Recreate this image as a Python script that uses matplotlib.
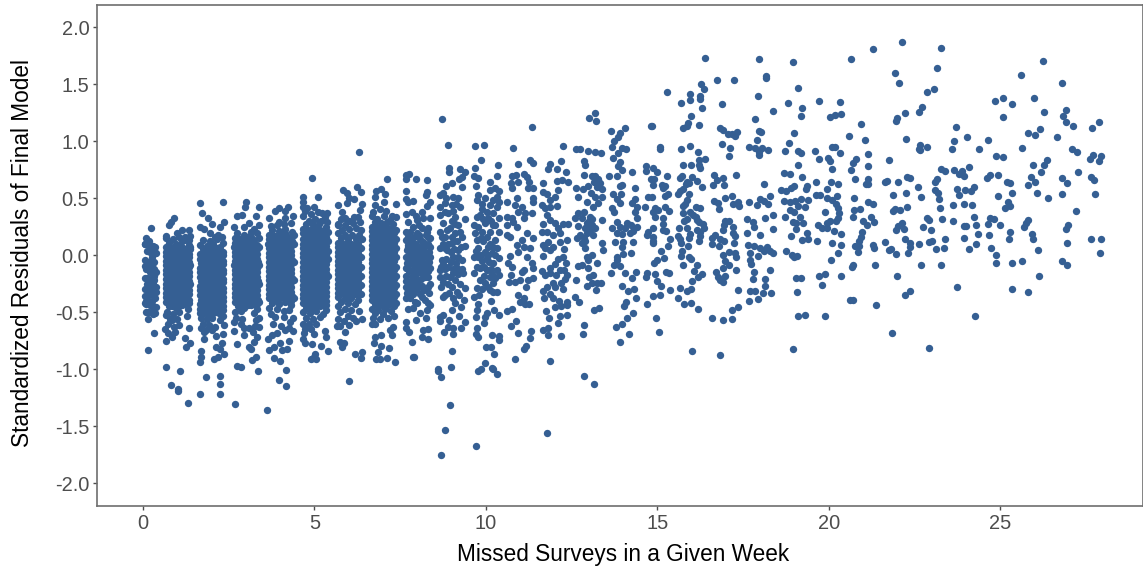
import matplotlib
matplotlib.use("Agg")
import matplotlib.pyplot as plt

plt.rcParams['font.family'] = ['Liberation Sans', 'DejaVu Sans']

x_ticks = [0, 5, 10, 15, 20, 25]
y_ticks = [-2.0, -1.5, -1.0, -0.5, 0.0, 0.5, 1.0, 1.5, 2.0]
x_title = "Missed Surveys in a Given Week"
y_title = "Standardized Residuals of Final Model"

# residuals: (missed surveys with jitter, residual)
week_0 = [(.22,.24),(.09,.146),(.07,.096),(.36,.073),(.12,.038),(.26,-.015),(.36,.015),(.21,-.059),(.07,-.097),(.12,-.088),(.38,-.146),(.26,-.088),(.12,-.205),(.33,-.219),(.17,-.278),(.26,-.307),(.38,-.322),(.36,-.38),(.12,-.366),(.07,-.424),(.21,-.439),(.38,-.453),(.14,-.497),(.36,-.512),(.15,-.561),(.31,-.681),(.15,-.83),(.08,-.43),(.1,-.12),(.3,-.25),(.2,-.15),(.07,-.3),(.38,.02),(.28,.08),(.17,.12),(.1,-.4),(.25,-.4),(.08,-.5),(.3,-.45),(.07,.1),(.07,-.04),(.31,-.06),(.07,-.2),(.24,-.21),(.37,-.28),(.19,.03),(.07,-.36),(.29,-.52),
(.29,.03),(.22,-.12),(.33,-.12),(.16,-.06),(.13,-.25),(.28,-.35),(.17,-.33),(.22,-.5),(.33,-.18),(.19,.08)]
week_1 = [(.68,-.983),(1.08,-1.02),(.82,-1.143),(1.02,-1.17),(1.01,-1.19),(1.31,-1.30),(.91,.322),(.82,.292),(.77,.263),(1.0,.19),(1.14,.219),(1.33,.219),(.68,.167),(1.37,.167),(1.23,.155),(1.38,.055),(1.33,.131),(1.28,-.532),(.68,-.526),(.65,-.652),(1.33,-.643),(1.23,-.731),(1.37,-.769),(1.25,-.804),(.68,-.752),(.85,-.716),(.94,-.673),(1.04,-.614),(.85,-.57),
(.68,.15),(.87,.14),(1.06,.16),(1.24,.13),(.76,.11),(.95,.1),(1.15,.12),(1.33,.09),(.67,.07),(.86,.06),(1.05,.08),(1.24,.05),(1.37,.07),(.77,.03),(.96,.02),(1.14,.04),(1.33,.01),(.68,-.01),(.87,-.02),(1.05,0.0),(1.25,-.03),(.76,-.05),(.95,-.06),(1.15,-.04),(1.34,-.06),(.66,-.09),(.86,-.1),(1.06,-.08),(1.24,-.11),(1.37,-.09),(.77,-.13),(.96,-.14),(1.14,-.12),(1.33,-.15),(.68,-.17),(.87,-.18),(1.05,-.16),(1.25,-.19),(.76,-.21),(.95,-.22),(1.15,-.2),(1.34,-.23),(.67,-.25),(.86,-.26),(1.06,-.24),(1.24,-.27),(1.37,-.25),(.77,-.29),(.96,-.3),(1.14,-.28),(1.33,-.31),(.68,-.33),(.87,-.34),(1.05,-.32),(1.25,-.35),(.76,-.37),(.95,-.38),(1.15,-.36),(1.34,-.39),(.67,-.41),(.86,-.42),(1.06,-.4),(1.24,-.43),(.77,-.45),(.96,-.46),(1.14,-.44),(1.3,-.47),(.7,-.5),(.88,-.52),(1.06,-.5),(.78,-.56),(1.0,-.56),(.72,-.6),(.9,-.63),(.73,-.68),
(.76,.07),(.95,.07),(1.15,.07),(.67,.03),(.86,.03),(1.05,.03),(1.24,.02),(.76,-.01),(.95,-.01),(1.15,-.01),(1.33,-.02),(.67,-.05),(.86,-.05),(1.05,-.05),(1.24,-.06),(.76,-.09),(.95,-.09),(1.15,-.08),(1.33,-.1),(.67,-.13),(.86,-.13),(1.05,-.13),(1.24,-.14),(.76,-.17),(.95,-.17),(1.15,-.16),(1.33,-.18),(.67,-.21),(.86,-.21),(1.05,-.21),(1.24,-.22),(.76,-.25),(.95,-.25),(1.15,-.24),(1.33,-.26),(.67,-.29),(.86,-.29),(1.05,-.29),(1.24,-.3),(.76,-.33),(.95,-.33),(1.15,-.32),(1.33,-.34),(.67,-.37),(.86,-.37),(1.05,-.37),(1.24,-.38),(.76,-.41),(.95,-.41),(1.15,-.4),(1.33,-.42),(.86,-.45),(1.05,-.45)]
week_2 = [(1.66,.453),(2.33,.462),(1.71,.365),(1.9,.322),(2.01,.272),(1.77,.228),(1.66,.243),(2.35,.292),(2.25,.248),(2.11,.161),(1.79,-.734),(2.14,-.708),(2.33,-.693),(2.3,-.775),(2.14,-.804),(2.35,-.868),(2.24,-.819),(1.69,-.842),(1.69,-.892),(1.67,-.939),(2.06,-.907),(2.18,-.892),(1.85,-1.07),(2.26,-1.056),(2.25,-1.132),(2.25,-1.216),(1.65,-1.222),(2.35,-.614),(1.77,-.673),
(1.96,.19),(2.2,.18),(2.3,.16),(1.76,.13),(1.95,.12),(2.15,.14),(2.34,.11),(1.67,.09),(1.86,.08),(2.05,.1),(2.24,.07),(1.76,.05),(1.95,.04),(2.15,.06),(2.34,.03),(1.66,.01),(1.86,0.0),(2.06,.02),(2.24,-.01),(1.77,-.03),(1.96,-.04),(2.14,-.02),(2.33,-.05),(1.68,-.07),(1.87,-.08),(2.05,-.06),(2.25,-.09),(1.76,-.11),(1.95,-.12),(2.15,-.1),(2.34,-.13),(1.67,-.15),(1.86,-.16),(2.06,-.14),(2.24,-.17),(1.77,-.19),(1.96,-.2),(2.14,-.18),(2.33,-.21),(1.68,-.23),(1.87,-.24),(2.05,-.22),(2.25,-.25),(1.76,-.27),(1.95,-.28),(2.15,-.26),(2.34,-.29),(1.67,-.31),(1.86,-.32),(2.06,-.3),(2.24,-.33),(1.77,-.35),(1.96,-.36),(2.14,-.34),(2.33,-.37),(1.68,-.39),(1.87,-.4),(2.05,-.38),(2.25,-.41),(1.76,-.43),(1.95,-.44),(2.15,-.42),(2.34,-.45),(1.67,-.47),(1.86,-.48),(2.06,-.46),(2.24,-.49),(1.77,-.51),(1.96,-.52),(2.14,-.5),(2.33,-.53),(1.68,-.55),(1.87,-.56),(2.02,-.55),(2.25,-.57),(1.76,-.6),(1.93,-.61),(2.1,-.63),(1.68,-.64),(1.85,-.66),(2.02,-.66),
(1.86,.05),(2.05,.05),(2.24,.03),(1.76,.01),(1.95,.01),(2.15,.01),(2.33,0.0),(1.67,-.03),(1.86,-.03),(2.05,-.03),(2.24,-.04),(1.76,-.07),(1.95,-.07),(2.15,-.06),(2.34,-.08),(1.67,-.11),(1.86,-.11),(2.05,-.11),(2.24,-.12),(1.76,-.15),(1.95,-.15),(2.15,-.14),(2.34,-.16),(1.67,-.19),(1.86,-.19),(2.05,-.19),(2.24,-.2),(1.76,-.23),(1.95,-.23),(2.15,-.22),(2.34,-.24),(1.67,-.27),(1.86,-.27),(2.05,-.27),(2.24,-.28),(1.76,-.31),(1.95,-.31),(2.15,-.3),(2.34,-.32),(1.67,-.35),(1.86,-.35),(2.05,-.35),(2.24,-.36),(1.76,-.39),(1.95,-.39),(2.15,-.38),(2.34,-.4),(1.67,-.43),(1.86,-.43),(2.05,-.43),(2.24,-.44),(1.76,-.47),(1.95,-.47),(2.15,-.46),(2.34,-.48),(1.67,-.51),(1.86,-.51),(2.05,-.51),(2.24,-.52)]
week_3 = [(3.0,.465),(2.98,.418),(3.37,.424),(2.74,.345),(2.88,.351),(3.3,.345),(3.08,.284),(3.37,.263),(2.66,.243),(2.94,.243),(3.23,.231),(2.65,-.664),(2.74,-.781),(2.94,-.702),(3.33,-.716),(3.23,-.76),(3.08,-.81),(3.15,-.827),(3.3,-.895),(3.19,-.921),(2.74,-.974),(2.87,-.985),(3.35,-1.012),(2.69,-1.304),
(2.75,.19),(2.95,.18),(3.14,.2),(3.32,.19),(2.67,.15),(2.86,.14),(3.05,.16),(3.24,.13),(3.37,.15),(2.76,.11),(2.95,.1),(3.15,.12),(3.33,.09),(2.66,.07),(2.86,.06),(3.06,.08),(3.24,.05),(3.37,.07),(2.77,.03),(2.96,.02),(3.14,.04),(3.33,.01),(2.68,-.01),(2.87,-.02),(3.05,0.0),(3.25,-.03),(2.76,-.05),(2.95,-.06),(3.15,-.04),(3.34,-.06),(2.66,-.09),(2.86,-.1),(3.06,-.08),(3.24,-.11),(3.37,-.09),(2.77,-.13),(2.96,-.14),(3.14,-.12),(3.33,-.15),(2.68,-.17),(2.87,-.18),(3.05,-.16),(3.25,-.19),(2.76,-.21),(2.95,-.22),(3.15,-.2),(3.34,-.23),(2.67,-.25),(2.86,-.26),(3.06,-.24),(3.24,-.27),(3.37,-.25),(2.77,-.29),(2.96,-.3),(3.14,-.28),(3.33,-.31),(2.68,-.33),(2.87,-.34),(3.05,-.32),(3.25,-.35),(2.76,-.37),(2.95,-.38),(3.15,-.36),(3.34,-.39),(2.67,-.41),(2.86,-.42),(3.06,-.4),(3.24,-.43),(3.37,-.41),(2.77,-.45),(2.96,-.46),(3.14,-.44),(3.33,-.47),(2.68,-.5),(2.87,-.49),(3.25,-.51),(2.72,-.55),(2.9,-.56),(3.3,-.57),(3.37,-.55),(2.66,-.59),(2.85,-.6),(3.27,-.62),(3.37,-.63),(3.1,-.64),(3.2,-.67),(2.95,-.64),
(2.76,.15),(2.95,.14),(3.15,.16),(2.67,.11),(2.86,.1),(3.05,.12),(3.24,.09),(2.76,.07),(2.95,.06),(3.15,.08),(3.33,.05),(2.67,.03),(2.86,.02),(3.05,.04),(3.24,.01),(2.76,-.01),(2.95,-.02),(3.15,0.0),(3.33,-.03),(2.67,-.05),(2.86,-.06),(3.05,-.04),(3.24,-.07),(2.76,-.09),(2.95,-.1),(3.15,-.08),(3.33,-.11),(2.67,-.13),(2.86,-.14),(3.05,-.12),(3.24,-.15),(2.76,-.17),(2.95,-.18),(3.15,-.16),(3.33,-.19),(2.67,-.21),(2.86,-.22),(3.05,-.2),(3.24,-.23),(2.76,-.25),(2.95,-.26),(3.15,-.24),(3.33,-.27),(2.67,-.29),(2.86,-.3),(3.05,-.28),(3.24,-.31),(2.76,-.33),(2.95,-.34),(3.15,-.32),(3.33,-.35),(2.67,-.37),(2.86,-.38),(3.05,-.36),(3.24,-.39),(2.76,-.41),(2.95,-.42),(3.15,-.4),(3.33,-.43),(2.86,-.46),(3.05,-.44)]
week_4 = [(3.67,.327),(3.86,.383),(3.98,.409),(4.22,.421),(4.13,.383),(4.38,.345),(3.96,.292),(3.73,.254),(4.15,.322),(3.66,-.74),(4.25,-.751),(3.76,-.702),(4.38,-.664),(3.67,-.833),(3.81,-.804),(4.01,-.775),(4.2,-.825),(4.05,-.833),(3.83,-.898),(3.99,-.927),(4.16,-1.006),(3.96,-1.096),(4.18,-1.146),(3.62,-1.36),(4.25,-.643),
(3.9,.26),(4.12,.27),(4.33,.28),(3.76,.22),(3.96,.21),(4.15,.23),(4.34,.2),(3.67,.18),(3.86,.17),(4.05,.19),(4.24,.16),(4.39,.18),(3.76,.14),(3.95,.13),(4.15,.15),(4.34,.12),(3.66,.1),(3.86,.09),(4.06,.11),(4.24,.08),(4.39,.1),(3.77,.06),(3.96,.05),(4.14,.07),(4.33,.04),(3.68,.02),(3.87,.01),(4.05,.03),(4.25,0.0),(3.76,-.02),(3.95,-.03),(4.15,-.01),(4.34,-.04),(3.67,-.06),(3.86,-.07),(4.06,-.05),(4.24,-.08),(4.39,-.06),(3.77,-.1),(3.96,-.11),(4.14,-.09),(4.33,-.12),(3.68,-.14),(3.87,-.15),(4.05,-.13),(4.25,-.16),(3.76,-.18),(3.95,-.19),(4.15,-.17),(4.34,-.2),(3.67,-.22),(3.86,-.23),(4.06,-.21),(4.24,-.24),(4.39,-.22),(3.77,-.26),(3.96,-.27),(4.14,-.25),(4.33,-.28),(3.68,-.3),(3.87,-.31),(4.05,-.29),(4.25,-.32),(3.76,-.34),(3.95,-.35),(4.15,-.33),(4.34,-.36),(3.67,-.38),(3.86,-.39),(4.06,-.37),(4.24,-.4),(4.39,-.38),(3.77,-.42),(3.96,-.43),(4.14,-.41),(4.33,-.44),(3.68,-.46),(3.9,-.47),(4.12,-.49),(4.27,-.48),(3.72,-.52),(3.86,-.54),(4.1,-.54),(4.38,-.55),(3.8,-.6),(4.02,-.62),(4.14,-.66),(3.9,-.68),(4.3,-.59),
(3.76,.18),(3.95,.17),(4.15,.19),(3.67,.14),(3.86,.13),(4.05,.15),(4.24,.12),(3.76,.1),(3.95,.09),(4.15,.11),(4.33,.08),(3.67,.06),(3.86,.05),(4.05,.07),(4.24,.04),(3.76,.02),(3.95,.01),(4.15,.03),(4.33,0.0),(3.67,-.02),(3.86,-.03),(4.05,-.01),(4.24,-.04),(3.76,-.06),(3.95,-.07),(4.15,-.05),(4.33,-.08),(3.67,-.1),(3.86,-.11),(4.05,-.09),(4.24,-.12),(3.76,-.14),(3.95,-.15),(4.15,-.13),(4.33,-.16),(3.67,-.18),(3.86,-.19),(4.05,-.17),(4.24,-.2),(3.76,-.22),(3.95,-.23),(4.15,-.21),(4.33,-.24),(3.67,-.26),(3.86,-.27),(4.05,-.25),(4.24,-.28),(3.76,-.3),(3.95,-.31),(4.15,-.29),(4.33,-.32),(3.67,-.34),(3.86,-.35),(4.05,-.33),(4.24,-.36),(3.76,-.38),(3.95,-.39),(4.15,-.37),(4.33,-.4)]
week_5 = [(4.92,.678),(4.66,.509),(5.11,.506),(4.66,.468),(4.66,.424),(4.98,.424),(4.78,.409),(5.37,.365),(5.22,.365),(4.67,-.737),(4.73,-.775),(4.71,-.681),(4.98,-.693),(5.3,-.664),(5.35,-.716),(4.93,-.781),(5.19,-.795),(5.39,-.845),(5.03,-.868),(4.98,-.892),(4.9,-.912),(5.06,-.909),
(4.72,.39),(4.9,.36),(5.1,.38),(5.3,.33),(4.67,.34),(4.84,.3),(5.03,.32),(5.2,.3),(5.38,.29),(4.76,.27),(4.95,.26),(5.14,.27),(5.33,.25),(4.67,.23),(4.86,.22),(5.05,.23),(5.24,.21),(5.39,.2),(4.76,.19),(4.95,.18),(5.15,.17),(5.33,.16),(4.67,.14),(4.86,.13),(5.06,.15),(5.24,.12),(5.39,.12),(4.77,.1),(4.96,.09),(5.14,.11),(5.33,.08),(4.68,.06),(4.87,.05),(5.05,.07),(5.25,.04),(5.39,.04),(4.76,.02),(4.95,.01),(5.15,.03),(5.34,0.0),(4.67,-.02),(4.86,-.03),(5.06,-.01),(5.24,-.04),(5.39,-.03),(4.77,-.06),(4.96,-.07),(5.14,-.05),(5.33,-.08),(4.68,-.1),(4.87,-.11),(5.05,-.09),(5.25,-.12),(4.76,-.14),(4.95,-.15),(5.15,-.13),(5.34,-.16),(4.67,-.18),(4.86,-.19),(5.06,-.17),(5.24,-.2),(5.39,-.18),(4.77,-.22),(4.96,-.23),(5.14,-.21),(5.33,-.24),(4.68,-.26),(4.87,-.27),(5.05,-.25),(5.25,-.28),(4.76,-.3),(4.95,-.31),(5.15,-.29),(5.34,-.32),(4.67,-.34),(4.86,-.35),(5.06,-.33),(5.24,-.36),(4.77,-.38),(4.96,-.39),(5.14,-.37),(5.33,-.4),(4.68,-.42),(4.87,-.43),(5.05,-.41),(5.25,-.44),(4.76,-.46),(4.95,-.47),(5.15,-.45),(5.34,-.48),(4.67,-.5),(4.86,-.51),(5.06,-.49),(5.24,-.52),(4.76,-.55),(4.95,-.56),(5.15,-.54),(4.67,-.6),(4.85,-.6),(5.06,-.6),(4.72,-.65),(4.9,-.65),
(4.76,.23),(4.95,.22),(5.15,.22),(4.67,.19),(4.86,.18),(5.05,.18),(5.24,.16),(4.76,.14),(4.95,.13),(5.15,.13),(4.67,.1),(4.86,.09),(5.05,.11),(5.24,.08),(4.76,.06),(4.95,.05),(5.15,.07),(5.33,.04),(4.67,.02),(4.86,.01),(5.05,.03),(5.24,0.0),(4.76,-.02),(4.95,-.03),(5.15,-.01),(5.33,-.04),(4.67,-.06),(4.86,-.07),(5.05,-.05),(5.24,-.08),(4.76,-.1),(4.95,-.11),(5.15,-.09),(5.33,-.12),(4.67,-.14),(4.86,-.15),(5.05,-.13),(5.24,-.16),(4.76,-.18),(4.95,-.19),(5.15,-.17),(5.33,-.2),(4.67,-.22),(4.86,-.23),(5.05,-.21),(5.24,-.24),(4.76,-.26),(4.95,-.27),(5.15,-.25),(5.33,-.28),(4.67,-.3),(4.86,-.31),(5.05,-.29),(5.24,-.32),(4.76,-.34),(4.95,-.35),(5.15,-.33),(5.33,-.36),(4.67,-.38),(4.86,-.39),(5.05,-.37),(5.24,-.4),(4.76,-.42),(4.95,-.43),(5.15,-.41),(5.33,-.44),(4.86,-.47),(5.05,-.45)]
week_6 = [(6.0,-1.102),(6.30,.9),(6.24,.596),(5.83,.573),(6.37,.55),(5.95,.541),(6.0,.497),(6.15,.488),(5.69,.439),(6.39,.444),(5.95,.453),(5.81,.38),(6.34,.395),(5.9,.322),(5.68,.263),(6.15,.336),(5.66,-.62),(5.74,-.62),(5.9,-.673),(6.0,-.614),(6.38,-.556),(6.22,-.576),(5.76,-.76),(5.87,-.769),(5.81,-.81),(6.17,-.868),(6.38,-.851),(6.36,-.904),(6.29,-.488),
(5.78,.32),(6.0,.3),(6.28,.33),(5.7,.27),(5.9,.26),(6.12,.28),(6.33,.29),(5.8,.22),(6.0,.23),(6.2,.24),(6.37,.22),(5.68,.19),(5.9,.18),(6.1,.18),(6.3,.18),(5.78,.15),(5.99,.14),(6.2,.14),(6.38,.14),(5.68,.11),(5.88,.1),(6.08,.1),(6.28,.1),(5.78,.07),(5.98,.06),(6.18,.06),(6.37,.06),(5.68,.03),(5.88,.02),(6.08,.02),(6.28,.02),(5.78,-.01),(5.98,-.02),(6.18,-.02),(6.37,-.02),(5.68,-.05),(5.88,-.06),(6.08,-.06),(6.28,-.06),(5.78,-.09),(5.98,-.1),(6.18,-.1),(6.37,-.1),(5.68,-.13),(5.88,-.14),(6.08,-.14),(6.28,-.14),(5.78,-.17),(5.98,-.18),(6.18,-.18),(6.37,-.18),(5.68,-.21),(5.88,-.22),(6.08,-.22),(6.28,-.22),(5.78,-.25),(5.98,-.26),(6.18,-.26),(6.37,-.26),(5.68,-.29),(5.88,-.3),(6.08,-.3),(6.28,-.3),(5.78,-.33),(5.98,-.34),(6.18,-.34),(6.37,-.34),(5.68,-.37),(5.88,-.38),(6.08,-.38),(6.27,-.39),(5.78,-.41),(5.98,-.42),(6.18,-.43),(5.68,-.45),(5.88,-.47),(6.08,-.48),(5.75,-.5),(5.97,-.53),(6.13,-.55),(5.7,-.56),(5.85,-.58),
(5.78,.11),(5.98,.1),(6.18,.1),(5.68,.07),(5.88,.06),(6.08,.06),(6.28,.06),(5.78,.03),(5.98,.02),(6.18,.02),(5.68,-.01),(5.88,-.02),(6.08,-.02),(6.28,-.02),(5.78,-.05),(5.98,-.06),(6.18,-.06),(5.68,-.09),(5.88,-.1),(6.08,-.1),(6.28,-.1),(5.78,-.13),(5.98,-.14),(6.18,-.14),(5.68,-.17),(5.88,-.18),(6.08,-.18),(6.28,-.18),(5.78,-.21),(5.98,-.22),(6.18,-.22),(5.68,-.25),(5.88,-.26),(6.08,-.26),(6.28,-.26),(5.78,-.29),(5.98,-.3),(6.18,-.3),(5.68,-.33),(5.88,-.34),(6.08,-.34),(6.28,-.34)]
week_7 = [(7.13,.67),(6.93,.579),(6.81,.558),(7.06,.535),(6.78,.506),(7.02,.465),(6.78,.439),(7.38,.447),(7.26,.342),(6.67,-.6),(6.78,-.602),(6.92,-.556),(7.29,-.629),(7.21,-.658),(7.25,-.699),(6.77,-.716),(6.95,-.702),(6.74,-.769),(6.93,-.795),(7.19,-.816),(6.86,-.851),(6.81,-.909),(6.92,-.912),(7.12,-.904),(7.34,-.936),(7.88,-.89),
(6.72,.38),(6.92,.4),(7.1,.39),(6.67,.34),(6.82,.32),(7.02,.34),(7.2,.31),(7.38,.33),(6.76,.29),(6.95,.28),(7.12,.29),(7.3,.27),(6.67,.25),(6.86,.24),(7.05,.25),(7.24,.23),(7.38,.22),(6.76,.21),(6.96,.2),(7.14,.2),(7.33,.19),(6.67,.17),(6.86,.16),(7.06,.17),(7.24,.15),(7.38,.14),(6.76,.13),(6.96,.12),(7.14,.12),(7.33,.11),(6.67,.09),(6.86,.08),(7.06,.09),(7.24,.07),(7.38,.06),(6.76,.05),(6.96,.04),(7.14,.04),(7.33,.03),(6.67,.01),(6.86,0.0),(7.06,.01),(7.24,-.01),(7.38,-.02),(6.76,-.03),(6.96,-.04),(7.14,-.04),(7.33,-.05),(6.67,-.07),(6.86,-.08),(7.06,-.07),(7.24,-.09),(7.38,-.1),(6.76,-.11),(6.96,-.12),(7.14,-.12),(7.33,-.13),(6.67,-.15),(6.86,-.16),(7.06,-.15),(7.24,-.17),(7.38,-.18),(6.76,-.19),(6.96,-.2),(7.14,-.2),(7.33,-.21),(6.67,-.23),(6.86,-.24),(7.06,-.23),(7.24,-.25),(7.38,-.26),(6.76,-.27),(6.96,-.28),(7.14,-.28),(7.33,-.29),(6.67,-.31),(6.86,-.32),(7.06,-.31),(7.24,-.33),(7.38,-.34),(6.76,-.35),(6.96,-.36),(7.14,-.36),(7.33,-.37),(6.67,-.39),(6.86,-.4),(7.06,-.39),(7.24,-.41),(7.38,-.42),(6.76,-.43),(6.96,-.44),(7.14,-.44),(7.33,-.45),(6.67,-.47),(6.86,-.48),(7.06,-.47),(7.24,-.49),(6.76,-.51),(7.0,-.52),(7.33,-.53),(6.7,-.55),(7.15,-.55),
(6.76,.25),(6.96,.24),(7.14,.24),(6.67,.21),(6.86,.2),(7.06,.21),(7.24,.19),(6.76,.17),(6.96,.16),(7.14,.16),(6.67,.13),(6.86,.12),(7.06,.13),(7.24,.11),(6.76,.09),(6.96,.08),(7.14,.08),(6.67,.05),(6.86,.04),(7.06,.05),(7.24,.03),(6.76,.01),(6.96,0.0),(7.14,0.0),(6.67,-.03),(6.86,-.04),(7.06,-.03),(7.24,-.05),(6.76,-.07),(6.96,-.08),(7.14,-.08),(6.67,-.11),(6.86,-.12),(7.06,-.11),(7.24,-.13),(6.76,-.15),(6.96,-.16),(7.14,-.16),(6.67,-.19),(6.86,-.2),(7.06,-.19),(7.24,-.21),(6.76,-.23),(6.96,-.24),(7.14,-.24),(6.67,-.27),(6.86,-.28),(7.06,-.27),(7.24,-.29),(6.76,-.31),(6.96,-.32),(7.14,-.32),(6.67,-.35),(6.86,-.36),(7.06,-.35),(7.24,-.37),(6.76,-.39),(6.96,-.4),(7.14,-.4),(6.86,-.44),(7.06,-.43)]
week_8 = [(7.67,.699),(7.76,.711),(7.67,.664),(7.95,.667),(8.28,.658),(7.67,.562),(8.27,.556),(8.25,.526),(7.67,.492),(7.74,.468),(7.89,.474),(8.37,.468),(8.27,.433),(7.67,.357),(7.84,.38),(8.13,.38),(8.37,.322),(7.74,.293),(7.98,.307),(8.18,.322),(7.89,.249),(7.67,.205),(8.13,.234),(8.32,.234),(7.74,.161),(7.98,.19),(8.37,.146),(7.67,.132),(7.84,.117),(8.18,.117),(8.03,.073),(8.38,.073),(7.69,.044),(7.89,.03),(8.23,.03),(7.67,-.014),(8.38,-.014),(8.03,-.029),(7.79,-.058),(8.27,-.073),(7.67,-.117),(7.93,-.117),(8.38,-.117),(8.13,-.16),(7.79,-.234),(8.03,-.219),(8.32,-.19),(7.93,-.307),(7.74,-.307),(8.35,-.336),(7.67,-.38),(8.13,-.365),(7.93,-.409),(8.38,-.438),(7.74,-.476),(7.87,-.468),(8.08,-.511),(8.27,-.482),(7.66,-.584),(7.96,-.57),(8.25,-.555),(7.67,-.643),(7.77,-.672),(8.18,-.655),(8.32,-.652),(8.14,-.722),(8.3,-.734),(7.86,-.76),(7.91,-.894),
(7.95,.34),(8.05,.26),(7.8,.2),(8.25,.18),(7.95,.1),(8.1,.06),(8.32,.1),(7.75,-.03),(8.15,-.05),(7.85,-.14),(8.2,-.12),(8.05,-.15),(7.68,-.18),(7.9,-.22),(8.15,-.27),(8.3,-.28),(8.0,-.3),(7.67,-.28),(8.22,-.39),(7.8,-.38),(8.0,-.42),(8.32,-.42),(8.37,-.25),(7.72,.09),
(7.8,.11),(7.9,.16),(8.08,.14),(8.3,.16),(7.73,.07),(7.98,.03),(8.15,.01),(8.33,.03),(7.82,-.01),(7.95,-.05),(8.1,-.02),(8.28,-.02),(7.7,-.07),(7.85,-.08),(8.03,-.09),(8.21,-.09),(8.35,-.06),(7.75,-.14),(7.95,-.17),(8.12,-.11),(8.3,-.14),(7.68,-.23),(7.85,-.19),(8.1,-.21),(8.24,-.19),(7.8,-.29),(7.98,-.25),(8.2,-.31),(7.7,-.33),(7.87,-.34),(8.07,-.34),
(7.88,.07),(8.2,.07),(8.05,.18),(7.8,.03),(7.95,-.1),(8.1,-.1),(8.28,-.1),(7.85,-.25),(7.72,-.12),(8.05,-.04),(8.0,.02),(7.9,-.02),(8.17,.11),(7.72,.13),(8.18,-.16),(8.28,.2)]
week_9 = [(8.71,1.196),(8.89,.968),(8.94,.761),(8.94,.726),(9.25,.755),(9.39,.726),(9.3,.687),(9.23,.667),(9.0,.635),(8.84,.603),(9.3,.6),(8.66,.527),(8.76,.541),(9.05,.512),(9.2,.497),(8.66,.424),(8.81,.454),(9.0,.439),(9.25,.424),(8.66,.351),(8.91,.366),(9.39,.313),(9.1,.337),(8.76,.278),(9.2,.263),(8.96,.234),(8.66,.205),(8.81,.161),(9.1,.19),(9.3,.161),(8.66,.059),(9.0,.103),(9.39,.079),(9.2,.044),(8.86,.044),(8.71,-.044),(9.05,-.014),(9.3,-.044),(8.66,-.131),(8.91,-.102),(9.15,-.117),(9.34,-.16),(8.66,-.19),(8.96,-.19),(8.76,-.234),(9.1,-.219),(9.39,-.292),(8.81,-.351),(9.15,-.322),(8.76,-.365),(9.05,-.38),(9.36,-.394),(9.1,-.424),(9.0,-.482),(9.27,-.453),(8.66,-.541),(8.76,-.526),(9.23,-.535),(8.66,-.576),(9.39,-.584),(8.94,-.57),(8.91,-.628),(8.78,-.678),(9.05,-.643),(9.27,-.643),(9.03,-.696),(9.02,-.845),(8.97,-.979),(8.61,-1.003),(8.69,-1.754),(8.81,-1.535),(8.96,-1.316),(8.6,-1.02),(8.69,-1.07),
(8.85,.5),(9.12,.45),(8.8,.38),(9.05,.39),(9.0,.3),(8.88,.22),(9.1,.27),(9.25,.2),(9.0,.16),(8.75,.1),(9.15,.12),(8.9,.1),(9.08,.05),(8.85,-.03),(9.18,-.02),(8.98,-.06),(8.8,-.12),(9.05,-.12),(8.9,-.25),(9.25,-.25),(8.7,-.28),(9.0,-.28),(9.3,-.12),
(8.8,.06),(8.97,.03),(9.28,.07),(8.75,-.08),(9.13,-.07),(8.83,-.18),(9.2,-.17),(9.05,-.16),(8.93,-.33),(9.22,-.35),(8.7,-.1),(8.72,.16)]
week_10 = [(9.68,.954),(9.96,.962),(9.85,.831),(10.35,.787),(9.68,.764),(9.66,.693),(9.78,.679),(10.34,.69),(10.12,.641),(9.71,.606),(10.27,.585),(10.38,.565),(9.78,.527),(10.12,.57),(9.98,.497),(10.32,.506),(9.73,.483),(10.38,.468),(9.88,.448),(10.12,.439),(10.32,.424),(10.02,.38),(10.22,.366),(9.83,.351),(10.07,.322),(10.37,.322),(9.66,.263),(9.78,.249),(9.98,.278),(10.22,.263),(9.68,.19),(9.88,.205),(10.12,.205),(10.37,.205),(10.02,.161),(10.27,.132),(9.73,.132),(9.78,.059),(10.07,.073),(10.32,.059),(9.98,.03),(10.17,.015),(9.66,-.02),(9.78,-.014),(10.02,-.029),(10.37,-.029),(10.22,-.073),(9.66,-.16),(9.83,-.117),(10.02,-.131),(10.32,-.131),(10.12,-.19),(10.38,-.175),(9.83,-.219),(9.98,-.243),(10.22,-.248),(9.73,-.292),(10.12,-.307),(10.34,-.322),(9.81,-.351),(9.66,-.365),(10.14,-.406),(9.78,-.429),(9.73,-.482),(10.02,-.511),(10.25,-.482),(10.37,-.526),(9.7,-.541),(9.98,-.541),(9.94,-.596),(9.75,-.64),(9.71,-.696),(9.78,-.722),(10.19,-.701),(10.37,-.71),(10.38,-.745),(10.01,-.81),(10.15,-.81),(10.24,-.868),(9.97,-.944),(10.19,-.99),(9.85,-1.003),(9.71,-1.675),(9.77,-1.02),(10.2,-1.0),(10.33,-1.04),
(9.9,.4),(10.2,.48),(9.92,.32),(10.15,.3),(9.85,.15),(10.05,0.0),(9.9,-.05),(10.18,-.17),(9.95,-.18),(10.27,0.0),(10.1,-.06),(10.2,-.32),(9.9,-.3),
(9.75,.33),(10.27,.26),(9.93,.12),(10.13,.1),(9.72,.04),(9.87,.0),(10.22,.07),(9.74,-.1),(9.95,-.1),(10.14,-.12),(10.27,-.2),(10.05,-.28)]
week_11 = [(10.78,.942),(11.34,1.126),(10.94,.801),(11.29,.833),(11.37,.804),(10.75,.696),(10.88,.702),(11.1,.711),(11.19,.682),(10.73,.629),(10.95,.644),(11.26,.644),(11.24,.585),(11.37,.585),(10.75,.585),(11.37,.497),(11.39,.468),(10.9,.497),(10.63,.468),(10.85,.439),(11.05,.424),(10.95,.38),(10.61,.337),(11.14,.366),(11.34,.366),(10.75,.322),(11.1,.322),(10.61,.263),(10.9,.249),(10.8,.293),(11.19,.19),(11.39,.146),(10.61,.176),(10.71,.161),(11.05,.132),(10.9,.088),(11.29,.059),(11.1,.073),(10.71,-.005),(10.95,.03),(11.19,-.014),(10.66,-.073),(10.75,-.102),(11.34,-.073),(11.1,-.131),(11.39,-.117),(11.05,-.146),(10.73,-.175),(10.69,-.234),(10.85,-.234),(11.0,-.219),(11.24,-.219),(11.37,-.204),(11.17,-.277),(10.95,-.351),(11.12,-.38),(11.0,-.409),(11.14,-.429),(11.27,-.429),(10.63,-.491),(10.75,-.476),(10.88,-.576),(10.74,-.622),(10.94,-.681),(11.33,-.663),(11.3,-.728),(11.17,-.798),(11.1,-.821),(10.86,-.915)]
week_12 = [(12.24,.954),(11.87,.799),(12.2,.822),(11.8,.755),(12.07,.755),(12.33,.728),(11.68,.629),(12.07,.649),(12.21,.658),(12.39,.644),(11.66,.556),(11.78,.535),(12.11,.57),(12.02,.512),(11.87,.483),(11.63,.439),(11.73,.41),(11.87,.424),(12.07,.43),(11.78,.351),(11.87,.307),(11.68,.272),(12.02,.278),(12.26,.272),(12.41,.272),(12.11,.234),(11.63,.2),(11.78,.205),(11.97,.176),(12.16,.19),(12.36,.132),(11.82,.117),(11.68,.088),(11.97,.073),(12.16,.117),(11.73,.059),(11.87,.044),(12.28,.05),(11.68,-.008),(12.26,-.014),(12.11,-.038),(12.33,-.073),(12.02,-.079),(11.87,-.117),(12.16,-.131),(11.63,-.137),(11.73,-.175),(11.87,-.16),(12.28,-.131),(12.36,-.175),(12.31,-.21),(12.05,-.175),(11.95,-.248),(12.18,-.248),(11.66,-.312),(11.79,-.283),(12.02,-.277),(12.26,-.301),(11.87,-.345),(11.97,-.374),(11.7,-.377),(12.36,-.409),(12.14,-.4),(12.02,-.453),(12.18,-.447),(12.36,-.438),(11.76,-.488),(12.16,-.535),(12.38,-.526),(11.84,-.549),(12.1,-.599),(11.68,-.655),(11.82,-.64),(11.8,-.699),(12.2,-.71),(11.86,-.93),(11.79,-1.561)]
week_13 = [(12.62,.93),(12.75,.933),(12.97,.916),(13.19,.907),(13.35,.892),(13.02,1.205),(13.18,1.243),(13.2,1.173),(12.85,.825),(12.89,.79),(12.85,.699),(13.09,.693),(13.19,.693),(13.26,.664),(13.33,.635),(13.16,.644),(12.63,.591),(12.99,.606),(12.83,.576),(13.23,.594),(13.38,.576),(13.06,.547),(12.7,.506),(13.19,.506),(13.38,.512),(12.94,.468),(13.28,.454),(13.14,.424),(12.7,.366),(12.85,.38),(12.6,.322),(12.8,.322),(13.04,.331),(13.38,.307),(12.7,.255),(12.94,.278),(13.09,.263),(12.89,.234),(13.04,.22),(13.19,.234),(12.75,.176),(12.65,.146),(12.94,.19),(13.14,.176),(12.8,.103),(12.89,.059),(13.38,.103),(13.41,.044),(12.94,-.014),(13.09,0.0),(12.99,-.044),(13.23,-.073),(12.7,-.096),(12.8,-.087),(12.99,-.117),(13.02,-.19),(13.14,-.175),(12.63,-.219),(13.09,-.243),(13.23,-.243),(13.35,-.243),(12.94,-.272),(13.21,-.307),(12.61,-.371),(12.71,-.412),(13.16,-.482),(13.29,-.468),(12.85,-.614),(12.83,-.693),(12.86,-1.06),(13.16,-1.13),(13.0,.3),(13.1,.32),(12.98,.24),(12.85,.15),(12.9,.12)]
week_14 = [(13.64,1.091),(14.05,1.117),(13.91,1.068),(13.85,1.038),(13.74,1.003),(13.68,.95),(13.96,.936),(14.09,.927),(13.86,.892),(13.72,.848),(13.91,.819),(13.87,.781),(13.98,.746),(14.25,.728),(13.6,.693),(13.82,.693),(14.66,.784),(14.66,.737),(14.35,.588),(13.91,.606),(13.98,.617),(13.72,.538),(13.93,.533),(13.84,.494),(13.91,.454),(13.67,.41),(13.74,.38),(14.35,.489),(14.25,.454),(14.4,.424),(14.35,.38),(14.4,.322),(13.82,.293),(14.13,.278),(14.23,.263),(13.91,.243),(13.67,.237),(14.4,.246),(14.06,.234),(13.82,.196),(13.96,.184),(14.3,.214),(14.21,.19),(13.77,.117),(14.01,.117),(14.3,.117),(13.98,.073),(14.24,.015),(13.99,.009),(13.82,-.014),(13.84,-.044),(13.74,-.087),(13.9,-.096),(13.65,-.16),(14.06,-.16),(14.39,-.146),(14.27,-.201),(13.97,-.272),(14.15,-.318),(14.33,-.301),(14.37,-.377),(14.09,-.415),(14.04,-.447),(14.3,-.511),(14.13,-.555),(13.96,-.605),(13.8,-.631),(14.17,-.696),(13.9,-.763),(14.83,1.132),
(14.64,.424),(14.74,.512),(14.71,-.43),(14.69,.176),(14.69,-.16),(14.67,-.19),(14.74,.205)]
week_15_18 = [(16.39,1.725),(17.96,1.717),(16.74,1.538),(17.25,1.535),(18.17,1.573),(18.17,1.553),(16.27,1.503),(16.37,1.459),(15.29,1.433),(15.97,1.41),(16.25,1.392),(16.26,1.372),(15.97,1.357),(15.68,1.334),(16.9,1.325),(17.93,1.395),(16.31,1.29),(18.39,1.263),(15.98,1.222),(17.86,1.19),(15.91,1.161),(15.88,1.135),(16.21,1.144),(15.74,1.114),(14.84,1.129),(16.83,1.114),(16.93,1.097),(17.05,1.065),(17.17,1.059),(17.27,1.044),(17.33,1.082),(17.97,1.091),(18.03,1.076),(17.91,1.006),(16.88,.971),(15.96,.956),(15.08,.951),(15.08,.927),(15.68,.927),(17.13,.936),(17.69,.945),(17.86,.939),(18.05,.939),(18.22,.918),(17.96,.907),(17.98,.877),(16.19,.907),(17.1,.866),(16.39,.845),(16.22,.831),(15.76,.787),(15.99,.793),(16.23,.79),(16.25,.761),(14.89,.763),(15.0,.728),(15.29,.69),(16.66,.702),(17.29,.699),(16.02,.687),(15.73,.69),(15.67,.673),(16.91,.673),(14.81,.664),(14.91,.664),(15.86,.644),(16.15,.652),(16.74,.655),(14.89,.614),(16.64,.617),(16.95,.614),(18.12,.626),(15.93,.629),(15.84,.62),(16.3,.6),(15.13,.614),(15.23,.605),(15.18,.585),(15.74,.579),(15.65,.559),(15.94,.538),(15.62,.535),(15.32,.538),(15.23,.521),(18.28,.518),(17.17,.515),(16.98,.503),(14.84,.512),(15.86,.483),(16.67,.474),(16.77,.456),(17.68,.465),(18.01,.494),(18.11,.477),(18.24,.448),(17.9,.439),(17.2,.448),(17.35,.465),(17.39,.433),(15.81,.448),(15.76,.433),(16.12,.421),(16.25,.415),(16.79,.407),(14.94,.41),(15.23,.424),(15.03,.395),(15.33,.383),(14.87,.38),(15.76,.369),(15.96,.375),(16.05,.348),(16.14,.336),(18.39,.354),(14.94,.336),(17.63,.319),(18.15,.325),(15.16,.328),(15.86,.313),(15.79,.301),(16.15,.307),(16.98,.298),(17.09,.296),(17.79,.29),(15.16,.275),(16.33,.269),(16.23,.293),(16.95,.263),(17.2,.243),(17.82,.246),(15.63,.234),(15.86,.234),(16.15,.22),(16.35,.234),(16.25,.205),(16.91,.22),(18.37,.231),(14.89,.234),(15.16,.22),(15.26,.214),(17.61,.19),(17.2,.19),(17.28,.17),(18.01,.173),(15.62,.167),(15.96,.185),(16.25,.167),(16.69,.176),(14.89,.161),(15.37,.143),(15.67,.138),(15.94,.147),(16.23,.126),(16.6,.147),(16.83,.138),(16.94,.126),(17.24,.108),(14.87,.126),(15.32,.082),(15.69,.103),(15.91,.079),(16.6,.1),(16.8,.079),(17.64,.085),(17.81,.079),(18.0,.059),(18.19,.073),(14.87,.103),(15.1,.035),(15.71,.035),(17.08,.029),(17.27,.021),(17.7,.018),(18.12,.033),(18.29,.038),(18.38,.015),(16.91,-.003),(15.68,-.011),(15.94,-.02),(15.99,-.038),(17.29,-.014),(17.93,-.011),(15.21,-.029),(16.98,-.052),(17.71,-.044),(14.98,-.044),(14.91,-.073),(17.08,-.084),(17.74,-.08),(15.74,-.087),(16.15,-.087),(16.91,-.111),(17.3,-.134),(18.3,-.131),(17.82,-.146),(16.08,-.14),(15.26,-.152),(15.34,-.155),(16.71,-.149),(16.31,-.166),(16.2,-.196),(14.94,-.166),(16.76,-.193),(16.97,-.184),(16.83,-.219),(16.91,-.239),(17.78,-.207),(18.15,-.207),(16.02,-.228),(14.99,-.231),(15.1,-.269),(18.13,-.269),(15.67,-.289),(15.38,-.31),(15.87,-.313),(15.99,-.295),(17.37,-.31),(17.72,-.313),(17.86,-.316),(18.09,-.333),(18.31,-.33),(15.07,-.348),(14.87,-.356),(15.62,-.377),(17.69,-.4),(17.94,-.386),(15.79,-.43),(15.98,-.421),(16.18,-.47),(17.17,-.479),(17.37,-.459),(16.61,-.555),(16.91,-.567),(17.17,-.561),(14.97,-.555),(15.04,-.675),(16.02,-.839),(16.82,-.88)]
week_19_21 = [(18.96,1.693),(20.64,1.72),(21.28,1.807),(19.11,1.462),(18.81,1.331),(19.73,1.348),(20.32,1.342),(19.23,1.293),(19.19,1.222),(20.37,1.24),(20.19,1.231),(20.05,1.214),(20.93,1.149),(18.98,1.073),(20.6,1.041),(21.07,1.006),(18.84,.983),(18.74,.915),(19.12,.91),(19.18,.895),(19.6,.913),(20.11,.951),(20.2,.948),(20.32,.892),(19.71,.842),(19.99,.848),(20.03,.825),(20.79,.839),(20.7,.807),(21.16,.886),(19.11,.793),(20.1,.758),(21.14,.781),(20.66,.746),(18.7,.723),(18.88,.708),(19.22,.684),(20.77,.667),(21.16,.667),(21.16,.623),(21.09,.623),(19.62,.644),(20.28,.626),(20.07,.638),(19.38,.608),(19.34,.576),(19.0,.605),(18.91,.588),(18.6,.567),(18.77,.559),(19.95,.579),(19.64,.527),(19.76,.527),(19.94,.503),(20.25,.515),(20.73,.503),(18.71,.474),(18.88,.462),(19.02,.477),(19.2,.491),(19.39,.48),(19.12,.43),(19.31,.421),(20.11,.48),(20.21,.448),(21.16,.468),(21.3,.445),(20.74,.395),(20.91,.404),(20.26,.415),(18.87,.395),(19.0,.377),(19.88,.377),(20.29,.366),(21.23,.336),(20.7,.336),(18.73,.33),(19.16,.33),(20.27,.322),(20.04,.301),(20.21,.298),(21.33,.293),(21.01,.298),(18.97,.287),(19.05,.284),(19.25,.284),(19.94,.284),(19.68,.263),(19.8,.24),(19.94,.24),(21.13,.263),(19.05,.225),(20.15,.211),(20.96,.205),(19.36,.193),(20.37,.187),(18.91,.167),(20.94,.161),(19.22,.135),(19.39,.138),(19.66,.126),(20.09,.108),(20.9,.126),(20.35,.085),(20.78,.079),(20.9,.079),(21.29,.088),(21.32,.065),(18.75,.038),(20.26,.015),(20.86,.027),(18.93,0.0),(19.08,-.006),(18.99,-.017),(20.07,-.044),(20.72,-.087),(20.67,-.108),(21.35,-.09),(19.9,-.164),(19.71,-.184),(20.36,-.184),(19.04,-.201),(19.2,-.201),(19.82,-.263),(19.09,-.327),(20.62,-.394),(20.7,-.394),(21.37,-.435),(19.11,-.532),(19.32,-.526),(19.9,-.535),(18.96,-.824)]
week_22_28 = [(22.14,1.87),(23.28,1.816),(21.95,1.6),(23.17,1.638),(22.05,1.506),(22.86,1.427),(23.06,1.453),(26.24,1.705),(25.6,1.58),(26.82,1.509),(24.84,1.351),(25.09,1.375),(25.34,1.322),(25.98,1.378),(26.27,1.258),(26.92,1.272),(26.85,1.217),(26.93,1.167),(27.14,1.132),(27.89,1.164),(27.67,1.114),(22.72,1.299),(22.63,1.258),(22.22,1.243),(21.99,1.205),(21.97,1.179),(25.09,1.208),(23.71,1.123),(26.18,1.108),(25.83,1.07),(26.01,1.053),(26.65,1.032),(22.26,1.021),(23.66,1.0),(24.03,1.032),(24.64,1.009),(22.67,.968),(22.86,.948),(22.64,.933),(22.67,.921),(23.61,.927),(24.39,.93),(25.63,.942),(27.1,.933),(27.25,.901),(21.76,.831),(24.87,.866),(25.08,.86),(27.71,.88),(27.63,.845),(27.94,.869),(27.9,.825),(26.36,.837),(26.29,.793),(25.97,.793),(24.08,.775),(23.66,.746),(23.27,.755),(23.38,.74),(23.89,.737),(23.79,.711),(23.94,.69),(26.2,.728),(27.26,.728),(24.95,.702),(24.72,.699),(24.63,.673),(22.29,.687),(22.37,.673),(23.15,.667),(23.11,.641),(21.63,.644),(21.71,.652),(22.03,.644),(25.89,.684),(26.02,.644),(26.82,.676),(26.96,.632),(27.65,.687),(27.73,.655),(25.2,.644),(25.29,.635),(25.83,.611),(22.62,.597),(24.25,.6),(23.11,.573),(23.18,.544),(23.75,.579),(23.97,.568),(24.14,.562),(22.26,.547),(25.34,.547),(26.09,.547),(26.82,.538),(27.78,.535),(21.88,.524),(22.68,.509),(23.81,.524),(24.94,.518),(26.39,.503),(23.23,.491),(25.22,.462),(23.63,.439),(23.95,.448),(24.19,.436),(25.28,.427),(25.13,.415),(22.28,.418),(23.25,.415),(21.93,.404),(21.89,.383),(22.09,.392),(27.23,.386),(22.87,.325),(22.94,.31),(23.31,.313),(23.64,.298),(24.23,.331),(24.71,.325),(24.82,.319),(25.83,.31),(25.76,.278),(25.7,.246),(24.64,.275),(24.99,.26),(24.31,.26),(23.95,.252),(24.02,.252),(22.75,.249),(22.99,.222),(22.14,.278),(22.01,.258),(21.97,.222),(22.21,.228),(26.98,.26),(26.93,.225),(25.29,.205),(24.36,.185),(24.67,.173),(25.92,.187),(25.95,.141),(25.25,.141),(23.95,.149),(22.22,.143),(23.38,.141),(27.65,.138),(27.94,.141),(21.64,.111),(22.36,.103),(22.65,.094),(22.94,.117),(23.01,.123),(24.31,.097),(26.95,.103),(22.38,.067),(23.12,.05),(23.36,.062),(24.1,.053),(24.75,.062),(26.11,.044),(21.82,.05),(21.75,.041),(21.97,.006),(22.32,.015),(24.89,.003),(27.93,.021),(22.68,-.087),(23.29,-.087),(24.87,-.073),(25.34,-.067),(25.64,-.05),(26.82,-.055),(26.95,-.084),(26.13,-.184),(21.99,-.187),(23.75,-.283),(25.36,-.301),(25.82,-.327),(22.38,-.316),(22.23,-.353),(24.26,-.532),(21.84,-.681),(22.92,-.818)]

groups = [week_0, week_1, week_2, week_3, week_4, week_5, week_6, week_7, week_8, week_9,
          week_10, week_11, week_12, week_13, week_14, week_15_18, week_19_21, week_22_28]
xs = [p[0] for g in groups for p in g]
ys = [p[1] for g in groups for p in g]

W, H = 1143, 569
fig = plt.figure(figsize=(W / 100, H / 100), dpi=100)
ax = fig.add_axes([97 / W, (H - 506) / H, 1046 / W, 501 / H])
ax.scatter(xs, ys, s=28, color="#355f93", linewidths=0, zorder=3)
ax.set_xlim(-1.342, 29.17)
ax.set_ylim(-2.2, 2.193)
ax.set_xticks(x_ticks)
ax.set_yticks(y_ticks)
ax.set_yticklabels([f"{v:.1f}" for v in y_ticks])
ax.tick_params(axis='both', labelcolor="#4d4d4d", labelsize=14.4, length=3, width=1, color="#4d4d4d", pad=2.5)
for s in ax.spines.values():
    s.set_color("#6e6e6e")
    s.set_linewidth(1.2)
ax.set_xlabel(x_title, fontsize=16.3, color="black")
ax.set_ylabel(y_title, fontsize=16.3, color="black")
ax.xaxis.set_label_coords(0.503, -0.074)
ax.yaxis.set_label_coords(-0.0605, 0.504)
fig.savefig("out.png", dpi=100)
